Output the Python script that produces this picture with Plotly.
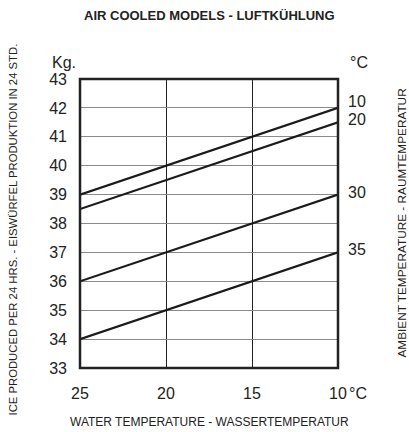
import plotly.graph_objects as go

# Data
water_temp = [25, 10]                      # °C water temperature (x)
ambient_labels = ["10", "20", "30", "35"]  # ambient temperature °C
ice_10 = [39.0, 42.0]
ice_20 = [38.5, 41.5]
ice_30 = [36.0, 39.0]
ice_35 = [34.0, 37.0]
series = [ice_10, ice_20, ice_30, ice_35]
label_shift = [6, 3, 2, 3]

x_ticks = [25, 20, 15, 10]
y_ticks = list(range(33, 44))

REG = "Liberation Sans, Arial, sans-serif"
INK = "#222"

fig = go.Figure()
for vals in series:
    fig.add_trace(go.Scatter(x=water_temp, y=vals, mode="lines",
                             line=dict(color="#1a1a1a", width=2.2),
                             showlegend=False, hoverinfo="skip"))

annotations = []
for lab, vals, sh in zip(ambient_labels, series, label_shift):
    annotations.append(dict(x=1, xref="paper", y=vals[-1], yref="y", text=lab,
                            showarrow=False, xanchor="left", xshift=8, yshift=sh,
                            font=dict(family=REG, size=16, color=INK)))

annotations += [
    dict(x=0, xref="paper", y=1, yref="paper", text="Kg.", showarrow=False,
         xanchor="right", yanchor="bottom", xshift=-2, yshift=6,
         font=dict(family=REG, size=16, color=INK)),
    dict(x=1, xref="paper", y=1, yref="paper", text="°C", showarrow=False,
         xanchor="left", yanchor="bottom", xshift=10, yshift=6,
         font=dict(family=REG, size=16, color=INK)),
    dict(x=1, xref="paper", y=0, yref="paper", text="°C", showarrow=False,
         xanchor="left", yanchor="top", xshift=9, yshift=-15,
         font=dict(family=REG, size=16, color=INK)),
    dict(x=0.5, xref="paper", y=1, yref="paper", text="<b>AIR COOLED MODELS - LUFTKÜHLUNG</b>",
         showarrow=False, xanchor="center", yanchor="middle", yshift=64,
         font=dict(family=REG, size=13, color=INK)),
    dict(x=0.5, xref="paper", y=0, yref="paper", text="WATER TEMPERATURE - WASSERTEMPERATUR",
         showarrow=False, xanchor="center", yanchor="middle", yshift=-54,
         font=dict(family=REG, size=12, color=INK)),
    dict(x=0, xref="paper", y=0.5, yref="paper",
         text="ICE PRODUCED PER 24 HRS. - EISWÜRFEL PRODUKTION IN 24 STD.",
         showarrow=False, textangle=-90, xanchor="center", yanchor="middle",
         xshift=-68, yshift=-6,
         font=dict(family=REG, size=11.3, color=INK)),
    dict(x=1, xref="paper", y=0.5, yref="paper",
         text="AMBIENT TEMPERATURE - RAUMTEMPERATUR",
         showarrow=False, textangle=-90, xanchor="center", yanchor="middle",
         xshift=63, yshift=0,
         font=dict(family=REG, size=11.8, color=INK)),
]

fig.update_layout(
    width=409, height=432,
    margin=dict(l=80, r=71, t=79, b=64),
    paper_bgcolor="white", plot_bgcolor="white",
    annotations=annotations,
    shapes=[dict(type="rect", xref="paper", yref="paper", x0=0, x1=1, y0=0, y1=1,
                 line=dict(color=INK, width=2.5), layer="above")],
    xaxis=dict(range=[25, 10], tickvals=x_ticks, ticktext=[str(v) for v in x_ticks],
               showgrid=True, gridcolor=INK, gridwidth=1, zeroline=False,
               showline=False, ticks="", ticklabelstandoff=14,
               tickfont=dict(family=REG, size=16, color=INK)),
    yaxis=dict(range=[33, 43], tickvals=y_ticks, showgrid=True, gridcolor="#8a8a8a",
               gridwidth=1.3, zeroline=False, showline=False, ticks="",
               ticklabelstandoff=12,
               tickfont=dict(family=REG, size=16, color=INK)),
)

fig.write_html("out.html", config={"displayModeBar": False},
               post_script="document.body.style.margin='0';document.body.style.overflow='hidden';")
